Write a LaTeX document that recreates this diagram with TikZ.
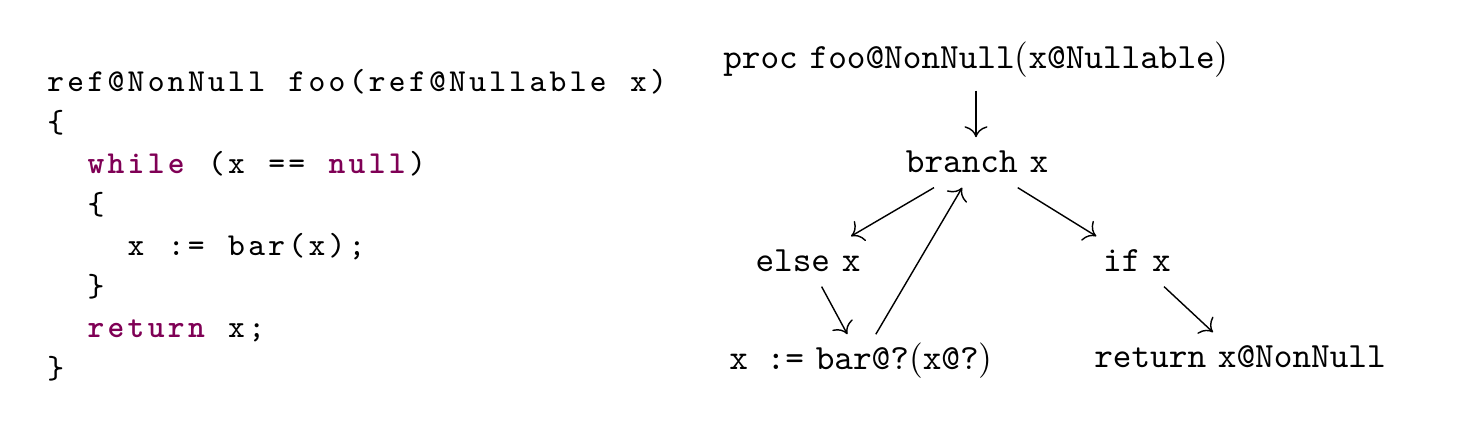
\documentclass[tikz,border=0pt]{standalone}
\usepackage{xcolor}
\usetikzlibrary{arrows.meta}
\definecolor{kw}{RGB}{127,0,85}
\newlength\codepitch
\setlength\codepitch{5.66pt}
\makeatletter
\newcommand\fixedstr[1]{\fixed@loop#1\relax}
\def\fixed@loop#1{\ifx#1\relax\else\hbox to\codepitch{\hss#1\hss}\expandafter\fixed@loop\fi}
\makeatother
\newcommand\kwd[1]{\textcolor{kw}{\bfseries\fixedstr{#1}}}
\tikzset{
  codeline/.style={anchor=base west, inner sep=0pt, font=\fontsize{9}{11}\selectfont\ttfamily},
  gnode/.style={anchor=base, inner xsep=2pt, inner ysep=3pt, text height=6.6pt, text depth=1.2pt},
  conn/.style={-{To[scale=1.25]}, line width=0.4pt}
}
\begin{document}
\begin{tikzpicture}[x=0.28169pt, y=-0.28169pt]
\useasboundingbox (0,0) rectangle (1465,430);
% code listing
\node[codeline] (c1) at (45,91)  {\fixedstr{ref@NonNull~foo(ref@Nullable~x)}};
\node[codeline] (c2) at (45,132) {\fixedstr{\{}};
\node[codeline] (c3) at (45,173) {\fixedstr{~~}\kwd{while}\fixedstr{~(x~==~}\kwd{null}\fixedstr{)}};
\node[codeline] (c4) at (45,214) {\fixedstr{~~\{}};
\node[codeline] (c5) at (45,255) {\fixedstr{~~~~x~:=~bar(x);}};
\node[codeline] (c6) at (45,296) {\fixedstr{~~\}}};
\node[codeline] (c7) at (45,337) {\fixedstr{~~}\kwd{return}\fixedstr{~x;}};
\node[codeline] (c8) at (45,378) {\fixedstr{\}}};
% graph
\node[gnode, text depth=3.2pt] (proc) at (976,68) {\texttt{proc} \texttt{foo@NonNull}(\texttt{x@Nullable})};
\node[gnode] (br)  at (977,172)  {\texttt{branch} \texttt{x}};
\node[gnode] (els) at (808,271)  {\texttt{else} \texttt{x}};
\node[gnode] (ifx) at (1137,271) {\texttt{if} \texttt{x}};
\node[gnode] (bar) at (861,369)  {\texttt{x :=} \texttt{bar@?}(\texttt{x@?})};
\node[gnode] (ret) at (1240,367) {\texttt{return} \texttt{x@NonNull}};
\draw[conn] (proc.south) -- (proc.south |- br.north);
\draw[conn] (br) -- (els);
\draw[conn] (br) -- (ifx);
\draw[conn] (els) -- (bar);
\draw[conn] (bar) -- (br);
\draw[conn] (ifx) -- (ret);
\end{tikzpicture}
\end{document}
